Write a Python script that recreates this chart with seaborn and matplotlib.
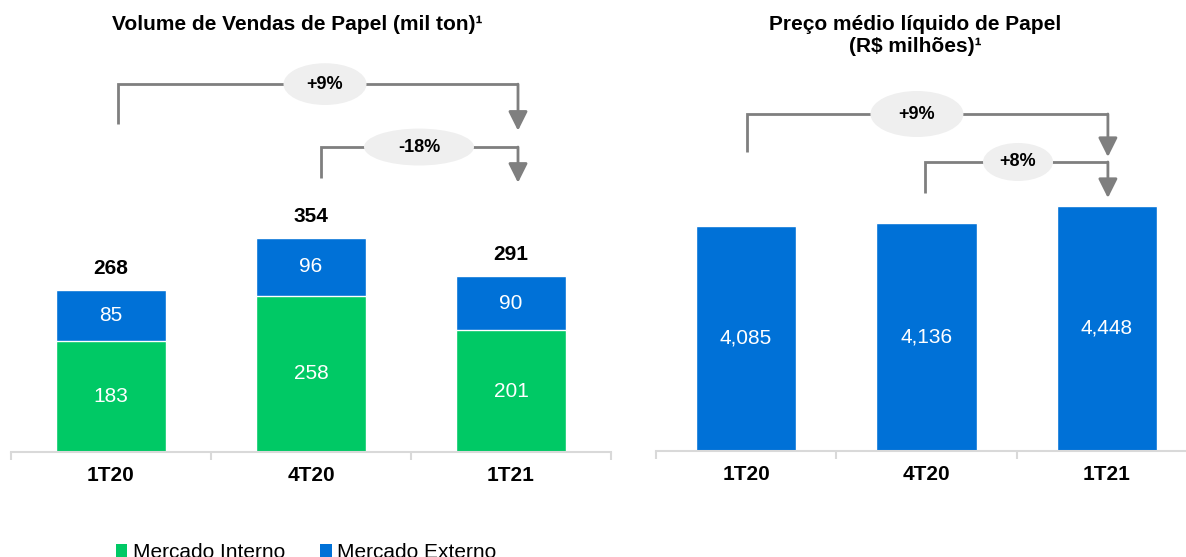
import matplotlib
matplotlib.use("Agg")
import matplotlib.pyplot as plt
import seaborn as sns
from matplotlib.patches import Ellipse, Patch

sns.set_style("white")
plt.rcParams['font.family'] = ['Liberation Sans', 'DejaVu Sans']
plt.rcParams['text.color'] = 'black'
plt.rcParams['xtick.color'] = 'black'

# data
trimestres = ['1T20', '4T20', '1T21']
mercado_interno = [183, 258, 201]
mercado_externo = [85, 96, 90]
volume_total = [268, 354, 291]
preco_medio = [4085, 4136, 4448]

var_volume = ['+9%', '-18%']
var_preco = ['+9%', '+8%']

verde = '#00C965'
azul = '#0071D7'
cinza = '#7f7f7f'

W, H = 1186, 557
fig = plt.figure(figsize=(W / 100, H / 100), dpi=100)

# left axes: baseline at y=452px, x from 11 to 611 px
ax1 = fig.add_axes([11 / W, (H - 452) / H, 600 / W, 452 / H])
# right axes: baseline at y=451px, x from 656 to 1197 px
ax2 = fig.add_axes([655.75 / W, (H - 451) / H, 541.5 / W, 451 / H])


def bracket(ax, x0, x1, y_start, y_top, y_tip, label, ex, ew, eh):
    ax.plot([x0, x0, x1], [y_start, y_top, y_top], color=cinza, lw=2,
            solid_joinstyle='miter', solid_capstyle='butt', zorder=2, clip_on=False)
    ax.annotate('', xy=(x1, y_tip), xytext=(x1, y_top),
                arrowprops=dict(arrowstyle='-|>,head_length=0.58,head_width=0.29',
                                color=cinza, lw=2, shrinkA=0, shrinkB=0,
                                mutation_scale=20), zorder=2)
    ax.add_patch(Ellipse((ex, y_top), ew, eh, fc='#efefef', ec='none', zorder=3))
    ax.text(ex, y_top, label, ha='center', va='center', fontsize=13,
            fontweight='bold', zorder=4)


def style_axis(ax, top):
    ax.set_xlim(-0.5, 2.5)
    ax.set_ylim(0, top)
    ax.set_yticks([])
    ax.set_xlabel('')
    ax.set_ylabel('')
    for s in ['top', 'left', 'right']:
        ax.spines[s].set_visible(False)
    ax.spines['bottom'].set_color('#d9d9d9')
    ax.spines['bottom'].set_linewidth(1.5)
    ax.set_xticks(range(len(trimestres)))
    ax.set_xticklabels(trimestres, fontsize=15, fontweight='bold')
    ax.set_xticks([-0.5, 0.5, 1.5, 2.5], minor=True)
    ax.tick_params(axis='x', which='major', length=0, pad=10)
    ax.tick_params(axis='x', which='minor', bottom=True, length=6, width=1.5,
                   color='#d9d9d9', direction='out')


# --- Volume de vendas (stacked) ---
sns.barplot(x=trimestres, y=volume_total, color=azul, saturation=1, width=0.55,
            ax=ax1, errorbar=None)
sns.barplot(x=trimestres, y=mercado_interno, color=verde, saturation=1, width=0.55,
            ax=ax1, errorbar=None)
style_axis(ax1, 747)

for i, (mi, me, tot) in enumerate(zip(mercado_interno, mercado_externo, volume_total)):
    ax1.text(i, mi / 2, str(mi), ha='center', va='center', color='white', fontsize=15)
    ax1.text(i, mi + me / 2, str(me), ha='center', va='center', color='white', fontsize=15)
    ax1.annotate(str(tot), xy=(i, tot), xytext=(0, 11.5), textcoords='offset points',
                 ha='center', va='baseline', fontsize=15, fontweight='bold')

bracket(ax1, 0.035, 2.035, 542, 608, 531, var_volume[0], 1.07, 0.415, 69)
bracket(ax1, 1.05, 2.035, 453, 504, 445, var_volume[1], 1.54, 0.55, 61)

# --- Preço médio ---
sns.barplot(x=trimestres, y=preco_medio, color=azul, saturation=1, width=0.555,
            ax=ax2, errorbar=None)
style_axis(ax2, 8185)

for i, v in enumerate(preco_medio):
    ax2.text(i, v / 2, f"{v:,}", ha='center', va='center', color='white', fontsize=15)

bracket(ax2, 0.005, 2.005, 5426, 6116, 5336, var_preco[0], 0.947, 0.515, 835)
bracket(ax2, 0.99, 2.005, 4682, 5245, 4592, var_preco[1], 1.507, 0.388, 690)

# titles
fig.text(297 / W, 1 - 25 / H, 'Volume de Vendas de Papel (mil ton)¹', ha='center',
         va='center', fontsize=15, fontweight='bold')
fig.text(915 / W, 1 - 36 / H, 'Preço médio líquido de Papel\n(R$ milhões)¹', ha='center',
         va='center', fontsize=15, fontweight='bold', linespacing=1.2)

# legend
handles = [Patch(fc=verde, ec='none'), Patch(fc=azul, ec='none')]
fig.legend(handles, ['Mercado Interno', 'Mercado Externo'], loc='upper left',
           bbox_to_anchor=(116 / W, 1 - 543 / H), ncol=2, frameon=False, fontsize=15,
           handlelength=0.55, handleheight=0.55, handletextpad=0.25,
           columnspacing=1.7, borderpad=0, borderaxespad=0)

fig.savefig('out.png', dpi=100)
